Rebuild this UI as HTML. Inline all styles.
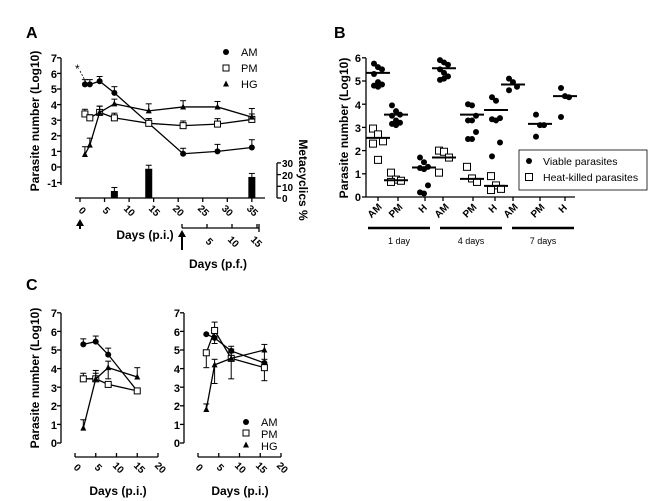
<!DOCTYPE html>
<html><head><meta charset="utf-8"><style>
body{margin:0;background:#fff}
svg{display:block;font-family:"Liberation Sans",Arial,sans-serif}
.b{font-weight:bold}
</style></head><body>
<svg id="s" width="667" height="501" viewBox="0 0 667 501" xmlns="http://www.w3.org/2000/svg">
<rect width="667" height="501" fill="#fff"/>
<g font-size="16" class="b" font-weight="bold">
<text x="26" y="38">A</text><text x="334" y="38">B</text><text x="26" y="290">C</text>
</g>
<g font-size="11" font-weight="bold" fill="#000">
<!-- A y labels -->
<g text-anchor="end">
<text x="57" y="62">7</text><text x="57" y="78">6</text><text x="57" y="93">5</text><text x="57" y="109">4</text>
<text x="57" y="125">3</text><text x="57" y="140">2</text><text x="57" y="156">1</text><text x="57" y="171">0</text><text x="57" y="187">-1</text>
</g>
<text transform="translate(39,121) rotate(-90)" text-anchor="middle" font-size="12">Parasite number (Log10)</text>
<text transform="translate(299,180) rotate(90)" text-anchor="middle" font-size="12">Metacyclics %</text>
<g font-size="10">
<text x="282" y="167">30</text><text x="282" y="179">20</text><text x="282" y="191">10</text><text x="282" y="202">0</text>
</g>
<g font-size="10" text-anchor="middle">
<text transform="translate(80,213) rotate(45)">0</text>
<text transform="translate(104,213) rotate(45)">5</text>
<text transform="translate(127,213) rotate(45)">10</text>
<text transform="translate(152,213) rotate(45)">15</text>
<text transform="translate(176,213) rotate(45)">20</text>
<text transform="translate(201,213) rotate(45)">25</text>
<text transform="translate(225,213) rotate(45)">30</text>
<text transform="translate(250,213) rotate(45)">35</text>
<text transform="translate(207,244) rotate(45)">5</text>
<text transform="translate(231,244) rotate(45)">10</text>
<text transform="translate(254,244) rotate(45)">15</text>
</g>
<text x="145" y="239" text-anchor="middle" font-size="12">Days (p.i.)</text>
<text x="218" y="268" text-anchor="middle" font-size="12">Days (p.f.)</text>
<g font-weight="normal" font-size="11">
<text x="241" y="56">AM</text><text x="241" y="72">PM</text><text x="241" y="88">HG</text>
</g>
<text x="75" y="73" font-size="12" font-weight="normal">*</text>
<!-- B -->
<g text-anchor="end">
<text x="361" y="62">6</text><text x="361" y="85">5</text><text x="361" y="109">4</text><text x="361" y="132">3</text>
<text x="361" y="155">2</text><text x="361" y="178">1</text><text x="361" y="201">0</text>
</g>
<text transform="translate(348,128) rotate(-90)" text-anchor="middle" font-size="12">Parasite number (Log10)</text>
<g font-size="10" text-anchor="middle">
<text transform="translate(377,213) rotate(-45)">AM</text>
<text transform="translate(398,213) rotate(-45)">PM</text>
<text transform="translate(425,211) rotate(-45)">H</text>
<text transform="translate(444,213) rotate(-45)">AM</text>
<text transform="translate(472,213) rotate(-45)">PM</text>
<text transform="translate(495,211) rotate(-45)">H</text>
<text transform="translate(513,213) rotate(-45)">AM</text>
<text transform="translate(540,213) rotate(-45)">PM</text>
<text transform="translate(565,211) rotate(-45)">H</text>
</g>
<g font-size="9" font-weight="normal" text-anchor="middle">
<text x="399" y="244">1 day</text><text x="471" y="244">4 days</text><text x="543" y="244">7 days</text>
</g>
<g font-weight="normal" font-size="10.5">
<text x="543" y="165">Viable parasites</text><text x="543" y="181">Heat-killed parasites</text>
</g>
<!-- C -->
<g text-anchor="end">
<text x="57" y="317">7</text><text x="57" y="336">6</text><text x="57" y="354">5</text><text x="57" y="373">4</text>
<text x="57" y="392">3</text><text x="57" y="410">2</text><text x="57" y="429">1</text><text x="57" y="447">0</text>
<text x="180" y="317">7</text><text x="180" y="336">6</text><text x="180" y="354">5</text><text x="180" y="373">4</text>
<text x="180" y="392">3</text><text x="180" y="410">2</text><text x="180" y="429">1</text><text x="180" y="447">0</text>
</g>
<text transform="translate(39,378) rotate(-90)" text-anchor="middle" font-size="12">Parasite number (Log10)</text>
<g font-size="10" text-anchor="middle">
<text transform="translate(75,470) rotate(45)">0</text>
<text transform="translate(96,470) rotate(45)">5</text>
<text transform="translate(116,470) rotate(45)">10</text>
<text transform="translate(137,470) rotate(45)">15</text>
<text transform="translate(158,470) rotate(45)">20</text>
<text transform="translate(197,470) rotate(45)">0</text>
<text transform="translate(218,470) rotate(45)">5</text>
<text transform="translate(238,470) rotate(45)">10</text>
<text transform="translate(259,470) rotate(45)">15</text>
<text transform="translate(280,470) rotate(45)">20</text>
</g>
<text x="118" y="495" text-anchor="middle" font-size="12">Days (p.i.)</text>
<text x="240" y="495" text-anchor="middle" font-size="12">Days (p.i.)</text>
<g font-weight="normal" font-size="11">
<text x="261" y="426">AM</text><text x="261" y="438">PM</text><text x="261" y="450">HG</text>
</g>
</g>
<g id="g" stroke="#000" fill="none" stroke-width="1.3"></g>
</svg>
<script>
var g=document.getElementById('g'),h='';
function L(a,b,c,d,w){h+='<line x1="'+a+'" y1="'+b+'" x2="'+c+'" y2="'+d+'"'+(w?' stroke-width="'+w+'"':'')+'/>';}
function P(pts){h+='<polyline points="'+pts.map(p=>p.join(',')).join(' ')+'"/>';}
function M(t,x,y,s){s=s||3;
 if(t=='c')h+='<circle cx="'+x+'" cy="'+y+'" r="'+s+'" fill="#000" stroke="none"/>';
 else if(t=='s')h+='<rect x="'+(x-s)+'" y="'+(y-s)+'" width="'+2*s+'" height="'+2*s+'" fill="#fff" stroke-width="1"/>';
 else h+='<polygon points="'+x+','+(y-s-0.5)+' '+(x-s)+','+(y+s-0.5)+' '+(x+s)+','+(y+s-0.5)+'" fill="#000" stroke="none"/>';}
function EB(x,y1,y2){L(x,y1,x,y2,1);L(x-3,y2,x+3,y2,1);}
// Panel A
var ax=d=>80+d*4.91, ay=v=>167-v*15.6;
L(61,58,61,185);for(var i=-1;i<=7;i++)L(57,ay(i),61,ay(i));
L(75,198,265,198);for(var d=0;d<=35;d+=5)L(ax(d),198,ax(d),202);
L(277,163,277,198);for(var i=0;i<=3;i++)L(277,198-i*11.7,281,198-i*11.7);
var bars=[[7,6,9],[14,25,28],[35,18,21]];
bars.forEach(b=>{var x=ax(b[0]),top=198-b[1]*1.17;h+='<rect x="'+(x-3.5)+'" y="'+top+'" width="7" height="'+(198-top)+'" fill="#000" stroke="none"/>';EB(x,top,198-b[2]*1.17);});
var days=[1,2,4,7,14,21,28,35];
var AM=[5.3,5.3,5.5,4.75,2.8,0.85,1.0,1.25],PM=[3.4,3.15,3.5,3.15,2.8,2.65,2.75,3.05],HG=[0.8,1.4,3.5,4.05,3.6,3.85,3.85,3.2];
var eA=[0.3,0.3,0.3,0.4,0.3,0.35,0.45,0.5],eP=[0.3,0.2,0.4,0.3,0.3,0.3,0.35,0.35],eH=[0.5,0.45,0.4,0.3,0.45,0.4,0.35,0.55];
[[AM,eA,'c'],[PM,eP,'s'],[HG,eH,'t']].forEach(s=>{P(days.map((d,i)=>[ax(d),ay(s[0][i])]));days.forEach((d,i)=>{EB(ax(d),ay(s[0][i]),ay(s[0][i]+s[1][i]));M(s[2],ax(d),ay(s[0][i]));});});
h+='<line x1="80" y1="71" x2="87" y2="84" stroke-width="0.8" stroke-dasharray="2,1.5"/>';
M('c',226,52,3);M('s',226,68,3);M('t',226,84,3);
// arrows
h+='<path d="M80,219 l-4,7 h8 z" fill="#000" stroke="none"/>';L(80,224,80,229,2);
h+='<path d="M182,230 l-4,7 h8 z" fill="#000" stroke="none"/>';L(182,235,182,250,2);
L(182,228,259,228);[182,207,232,257].forEach(x=>L(x,224,x,228));L(259,224,259,232);
// Panel B
var by=v=>197-v*23.2;
L(366,58,366,197);for(var i=0;i<=6;i++)L(362,by(i),366,by(i));
L(366,197,575,197);[378,398,425,443,473,495,513,540,565].forEach(x=>L(x,197,x,201));
L(368,228,430,228,2.5);L(440,228,502,228,2.5);L(512,228,574,228,2.5);
var V=[[378,[5.75,5.6,5.5,5.3,4.95,4.85,4.8,4.75],5.35],[396,[3.95,3.7,3.55,3.5,3.3,3.2,3.15,3.1],3.55],[424,[1.7,1.5,1.3,1.25,1.2,0.5,0.2,0.15],1.27],
[444,[5.9,5.8,5.7,5.5,5.35,5.2,5.05,5.1],5.55],[472,[4.0,3.95,3.5,3.3,3.3,2.8,2.5,2.5],3.55],[496,[4.3,4.15,3.4,3.35,3.3,2.35,1.75],3.75],
[513,[5.1,4.95,4.75,4.6],4.85],[540,[3.55,3.1,3.1,2.6],3.15],[565,[4.7,4.35,4.3,3.45],4.35]];
V.forEach(c=>{c[1].forEach((v,i)=>M('c',c[0]+((i%3)-1)*4,by(v),3));L(c[0]-12,by(c[2]),c[0]+12,by(c[2]),2);});
var K=[[378,[2.95,2.7,2.4,2.3,1.6],2.55],[396,[1.05,0.75,0.7,0.65],0.72],[444,[2.0,1.95,1.7,1.05],1.7],[472,[1.3,0.8,0.65],0.78],[496,[0.9,0.5,0.35,0.3],0.48]];
K.forEach(c=>{c[1].forEach((v,i)=>M('s',c[0]+((i%3)-1)*5,by(v),3.5));L(c[0]-12,by(c[2]),c[0]+12,by(c[2]),2);});
h+='<rect x="519" y="150" width="128" height="40" fill="none" stroke-width="0.8"/>';
M('c',529,161,3);M('s',529,177,3.5);
// Panel C
var cy=v=>443-v*18.6;
function CP(x0,AMd,PMd,HGd){var cx=d=>x0+d*4.15;var yx=x0-14;
 L(yx,313,yx,443);for(var i=0;i<=7;i++)L(yx-4,cy(i),yx,cy(i));
 L(x0,457,x0+83,457);for(var d=0;d<=20;d+=5)L(cx(d),453,cx(d),457);
 [[AMd,'c'],[PMd,'s'],[HGd,'t']].forEach(s=>{P(s[0].map(p=>[cx(p[0]),cy(p[1])]));s[0].forEach(p=>{if(p[2]){EB(cx(p[0]),cy(p[1]),cy(p[1]+p[2]));}if(p[3]){EB(cx(p[0]),cy(p[1]),cy(p[1]-p[3]));}M(s[1],cx(p[0]),cy(p[1]),3);});});}
CP(75,[[2,5.3,0.3],[5,5.45,0.3],[8,4.75,0.35],[15,2.8,0]],[[2,3.45,0.3],[5,3.45,0.45],[8,3.15,0],[15,2.8,0]],[[2,0.8,0.45],[5,3.45,0.3],[8,4.05,0.35,0.6],[15,3.55,0.5]]);
CP(198,[[2,5.85,0],[4,5.65,0.3],[8,4.95,0.25],[16,4.3,0.2]],[[2,4.85,0,0.8],[4,6.05,0.45,0.7],[8,4.55,0.3,1.1],[16,4.05,0,0.7]],[[2,1.8,0.3],[4,4.2,0.3,1.0],[8,4.55,0.5],[16,5.0,0.3,0.7]]);
M('c',246,422,3);M('s',246,433,3);M('t',246,445,3);
g.innerHTML=h;
</script>
</body></html>
